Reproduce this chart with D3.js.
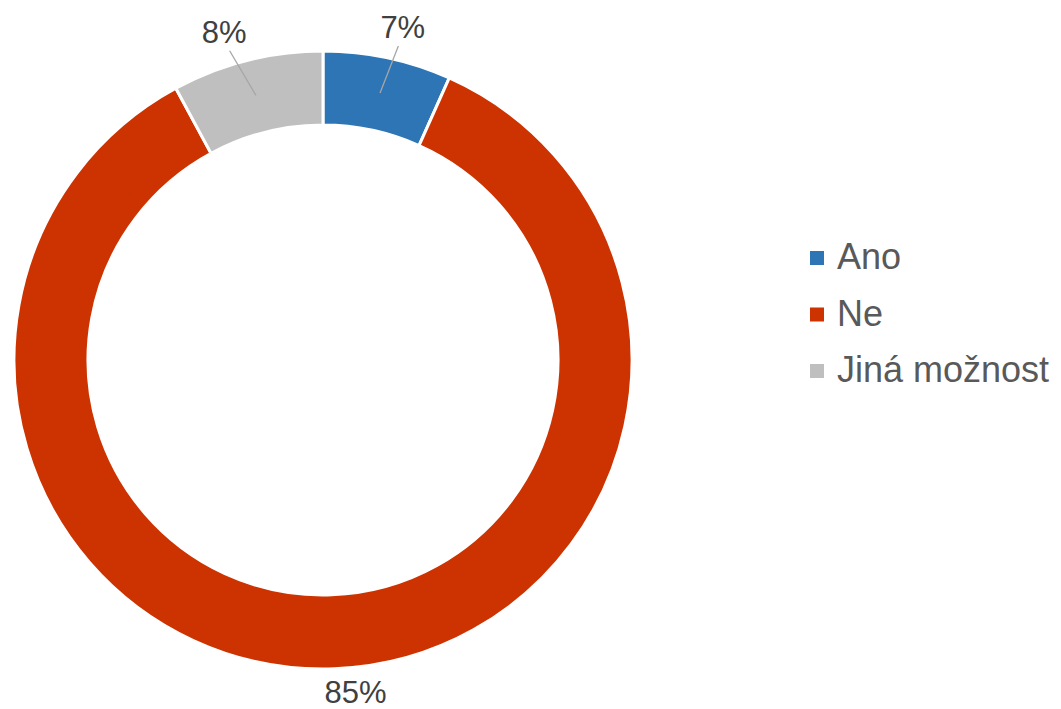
<!DOCTYPE html>
<html>
<head>
<meta charset="utf-8">
<script src="https://cdn.jsdelivr.net/npm/d3@7"></script>
<style>
  body { margin: 0; background: #fff; }
  text { font-family: "Liberation Sans", Arial, sans-serif; }
</style>
</head>
<body>
<div class="chart"></div>
<script>
// data
const categories = ["Ano", "Ne", "Jiná možnost"];
const values = [6.7, 85.4, 7.9];
const colors = ["#2E75B6", "#CC3300", "#BFBFBF"];

const width = 1061, height = 709;
const cx = 323, cy = 360;
const outer = 309, inner = 235;

const svg = d3.select(".chart").append("svg")
    .attr("width", width)
    .attr("height", height);

const g = svg.append("g")
    .attr("transform", "translate(" + cx + "," + cy + ")");

const data = categories.map((c, i) => ({label: c, value: values[i], color: colors[i]}));
const total = d3.sum(values);

const pie = d3.pie()
    .sort(null)
    .value((d) => d.value);

const arc = d3.arc()
    .outerRadius(outer)
    .innerRadius(inner);

const arcs = pie(data);

g.selectAll(".slice")
    .data(arcs)
  .enter().append("path")
    .attr("class", "slice")
    .attr("d", arc)
    .style("fill", (d) => d.data.color)
    .style("stroke", "#fff")
    .style("stroke-width", 3);

const fmt = d3.format(".0%");
const mid = (d) => (d.startAngle + d.endAngle) / 2;
const pt = (a, r) => [Math.sin(a) * r, -Math.cos(a) * r];

// small slices get a leader line, big one sits just outside
arcs.forEach((d) => {
  const a = mid(d);
  const small = (d.endAngle - d.startAngle) < 0.6;
  let labelA = a, labelR = 334;
  if (small) {
    labelA = a + (a > Math.PI ? -0.045 : 0.025);
    labelR = 342;
    const p1 = pt(a, 273), p2 = pt(labelA, 323);
    g.append("line")
        .attr("x1", p1[0]).attr("y1", p1[1])
        .attr("x2", p2[0]).attr("y2", p2[1])
        .style("stroke", "#A6A6A6")
        .style("stroke-width", 1.3);
  } else {
    labelA = a - 0.06;
  }
  const p = pt(labelA, labelR);
  g.append("text")
      .attr("x", p[0])
      .attr("y", p[1])
      .attr("dy", "0.35em")
      .style("text-anchor", "middle")
      .style("font-size", "31px")
      .style("fill", "#404040")
      .text(fmt(d.data.value / total));
});

// legend
const legend = svg.append("g")
    .attr("transform", "translate(810,256)");

const item = legend.selectAll(".item")
    .data(data)
  .enter().append("g")
    .attr("class", "item")
    .attr("transform", (d, i) => "translate(0," + i * 56.5 + ")");

item.append("rect")
    .attr("x", 0)
    .attr("y", -5)
    .attr("width", 14)
    .attr("height", 14)
    .style("fill", (d) => d.color);

item.append("text")
    .attr("x", 27)
    .attr("y", 13)
    .style("font-size", "36px")
    .style("fill", "#595959")
    .text((d) => d.label);
</script>
</body>
</html>
